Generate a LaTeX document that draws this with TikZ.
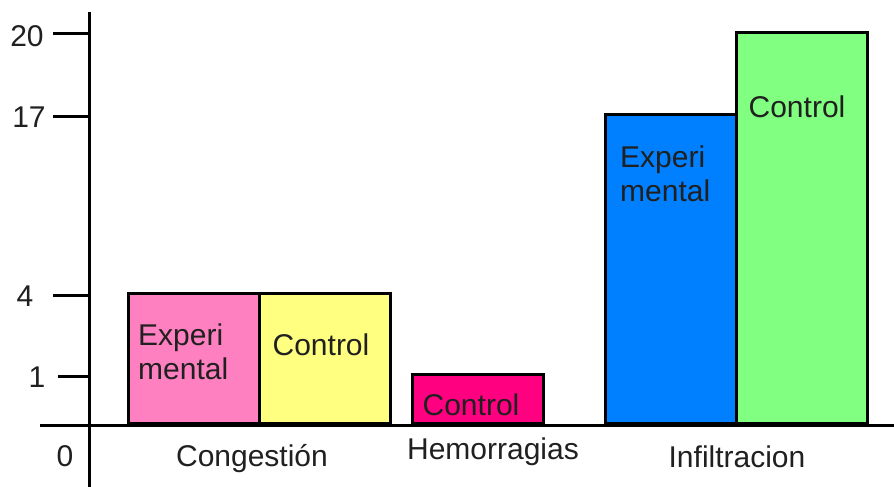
\documentclass[tikz,border=0pt]{standalone}
\usepackage{fontspec}
\setmainfont{Liberation Sans}
\definecolor{cpink}{HTML}{FF80C0}
\definecolor{cyellow}{HTML}{FFFF80}
\definecolor{cmag}{HTML}{FF0080}
\definecolor{cblue}{HTML}{0080FF}
\definecolor{cgreen}{HTML}{80FF80}
\definecolor{txt}{HTML}{202020}
\begin{document}
\begin{tikzpicture}[x=1pt,y=-1pt,
  bar/.style={draw=black, line width=3pt, anchor=south west, inner sep=0pt, minimum width=131pt},
  lbl/.style={font=\fontsize{30}{34}\selectfont, text=txt, inner sep=0pt},
  axis/.style={line width=3pt, black},
  tick/.style={line width=3pt, black}]
\useasboundingbox[fill=white] (0,0) rectangle (894,487);
% bars
\node[bar, fill=cpink, minimum height=130pt] (ce) at (127,425) {};
\node[bar, fill=cyellow, minimum height=130pt] (cc) at (258,425) {};
\node[bar, fill=cmag, minimum height=49pt] (hc) at (411,425) {};
\node[bar, fill=cblue, minimum height=309pt] (ie) at (604,425) {};
\node[bar, fill=cgreen, minimum height=391pt] (ic) at (735,425) {};
% axes
\coordinate (ytop) at (89,12);
\coordinate (ybot) at (89,487);
\coordinate (xl) at (40,425);
\coordinate (xr) at (894,425);
\draw[axis] (ytop) -- (ybot);
\draw[axis] (xl) -- (xr);
% ticks
\coordinate (t20) at (53,34);
\coordinate (t17) at (53,116);
\coordinate (t4) at (53,295);
\coordinate (t1) at (58,376);
\draw[tick] (t20) -- (t20 -| ytop);
\draw[tick] (t17) -- (t17 -| ytop);
\draw[tick] (t4) -- (t4 -| ytop);
\draw[tick] (t1) -- (t1 -| ytop);
% tick labels
\node[lbl] (l20) at (27,36) {20};
\node[lbl] (l17) at (29,117) {17};
\node[lbl] (l4) at (25,296) {4};
\node[lbl] (l1) at (37,377) {1};
\node[lbl] (l0) at (65,456) {0};
% bar labels
\node[lbl, align=left, anchor=north west] (tce) at (138,324) {Experi\\mental};
\node[lbl] (tcc) at (321,345) {Control};
\node[lbl] (thc) at (471,405) {Control};
\node[lbl, align=left, anchor=north west] (tie) at (620,146) {Experi\\mental};
\node[lbl] (tic) at (797,107) {Control};
% category labels
\node[lbl] (cat1) at (252,459) {Congestión};
\node[lbl] (cat2) at (493,452) {Hemorragias};
\node[lbl] (cat3) at (737,457) {Infiltracion};
\end{tikzpicture}
\end{document}
